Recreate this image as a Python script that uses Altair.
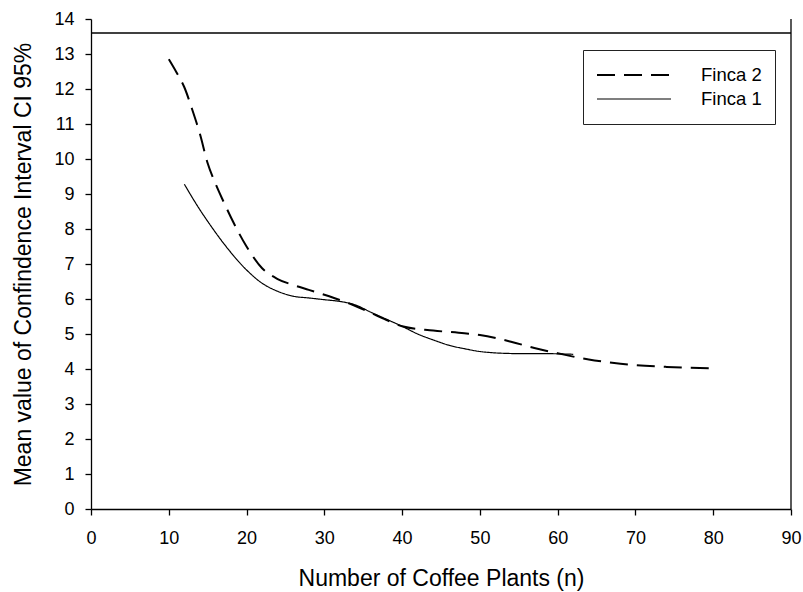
import altair as alt
import pandas as pd

# Finca 2 (dashed curve): number of plants vs mean CI 95% width
finca2_n = [10, 11, 12, 13, 14, 15, 16, 17, 18, 20, 22, 24, 26, 28, 30, 32, 34,
            36, 38, 40, 44, 48, 50, 54, 57, 60, 64, 67, 70, 74, 80]
finca2_ci = [12.85, 12.47, 12.05, 11.42, 10.72, 9.88, 9.3, 8.8, 8.33, 7.5, 6.88,
             6.57, 6.4, 6.26, 6.12, 5.97, 5.8, 5.6, 5.4, 5.22, 5.1, 5.02, 4.97,
             4.78, 4.6, 4.45, 4.27, 4.18, 4.11, 4.06, 4.02]

# Finca 1 (solid curve)
finca1_n = [12, 14, 15, 17.4, 20, 22, 24, 26, 28, 30, 32, 34, 36, 38, 40,
            42, 44, 46, 48, 50, 52, 55, 58, 62]
finca1_ci = [9.28, 8.55, 8.22, 7.49, 6.83, 6.45, 6.22, 6.08, 6.03, 5.98, 5.93,
             5.83, 5.62, 5.42, 5.22, 5.0, 4.83, 4.68, 4.58, 4.5, 4.46, 4.44,
             4.44, 4.42]

series_names = ["Finca 2", "Finca 1"]
x_ticks = list(range(0, 91, 10))
y_ticks = list(range(0, 15))
upper_line = 13.6
x_max = 90

FONT = "Liberation Sans"

curves = pd.concat([
    pd.DataFrame({"n": finca2_n, "ci": finca2_ci, "series": series_names[0]}),
    pd.DataFrame({"n": finca1_n, "ci": finca1_ci, "series": series_names[1]}),
])

legend = alt.Legend(
    title=None,
    orient="none",
    legendX=492,
    legendY=31,
    strokeColor="#222222",
    padding=13,
    symbolType="stroke",
    symbolSize=5476,
    symbolStrokeColor="black",
    labelFont=FONT,
    labelFontSize=18.5,
    labelColor="black",
    labelOffset=29,
    clipHeight=24,
    rowPadding=0,
)

x_enc = alt.X(
    "n:Q",
    scale=alt.Scale(domain=[0, x_max], nice=False, zero=True),
    axis=alt.Axis(values=x_ticks, title="Number of Coffee Plants (n)",
                  labelPadding=14, titlePadding=20, labelFlush=False, labelOverlap=False),
)
y_enc = alt.Y(
    "ci:Q",
    scale=alt.Scale(domain=[0, 14], nice=False),
    axis=alt.Axis(values=y_ticks, tickCount=15, title="Mean value of Confindence Interval CI 95%",
                  labelPadding=11, titlePadding=18, labelFlush=False, labelOverlap=False),
)

lines = alt.Chart(curves).mark_line(interpolate="monotone", color="black").encode(
    x=x_enc,
    y=y_enc,
    strokeDash=alt.StrokeDash(
        "series:N",
        scale=alt.Scale(domain=series_names, range=[[18, 9], [1, 0]]),
        legend=legend,
    ),
    strokeWidth=alt.StrokeWidth(
        "series:N",
        scale=alt.Scale(domain=series_names, range=[2.0, 1.2]),
        legend=legend,
    ),
)

top_rule = alt.Chart(pd.DataFrame({"ci": [upper_line]})).mark_rule(
    color="black", strokeWidth=1.3
).encode(y=y_enc)

right_rule = alt.Chart(pd.DataFrame({"n": [x_max]})).mark_rule(
    color="black", strokeWidth=1.3
).encode(x=x_enc)

chart = (
    alt.layer(lines, top_rule, right_rule)
    .properties(
        width=700,
        height=490,
        autosize=alt.AutoSizeParams(type="none"),
        padding={"left": 91, "top": 19, "right": 12, "bottom": 83},
        background="white",
    )
    .configure_view(stroke=None)
    .configure_axis(
        grid=False,
        labelFont=FONT,
        titleFont=FONT,
        labelFontSize=18,
        titleFontSize=23,
        titleFontWeight="normal",
        labelColor="black",
        titleColor="black",
        domainColor="black",
        domainWidth=1.3,
        tickColor="black",
        tickWidth=1.3,
        tickSize=6,
    )
)

chart.save("out.html", embed_options={"renderer": "svg", "actions": False})
